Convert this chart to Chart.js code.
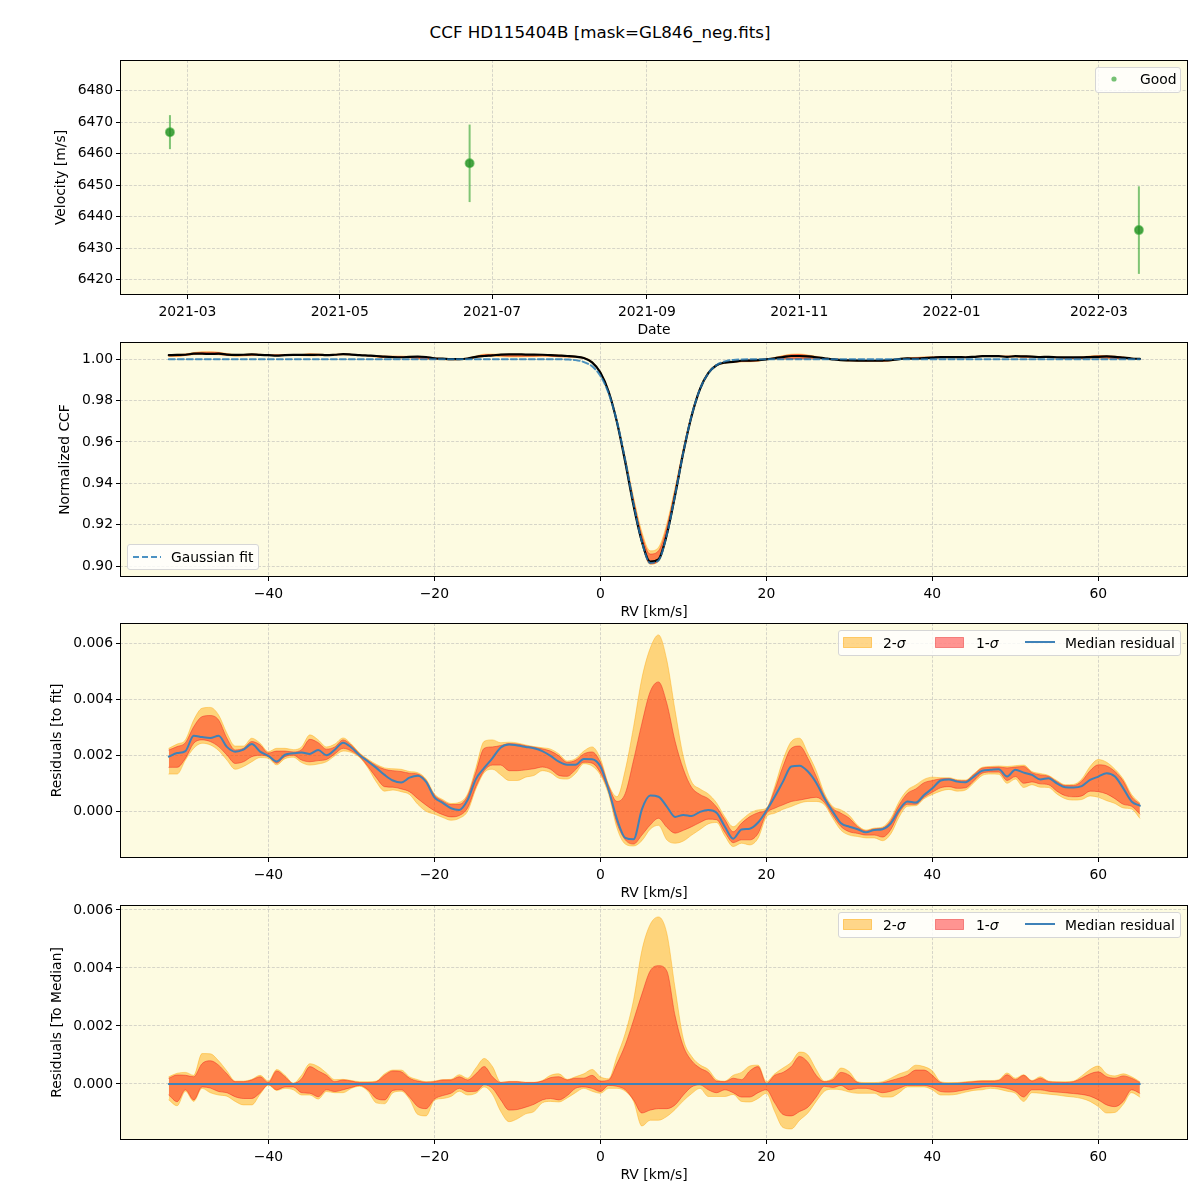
<!DOCTYPE html>
<html>
<head>
<meta charset="utf-8">
<script src="https://cdn.jsdelivr.net/npm/chart.js@4.4.0/dist/chart.umd.min.js"></script>
<style>
  html, body { margin:0; padding:0; background:#fff; }
  body { width:1200px; height:1200px; position:relative; overflow:hidden; font-family:'DejaVu Sans', sans-serif; color:#000; }
  canvas { position:absolute; left:0; display:block; }
  #title { position:absolute; left:0; top:22px; width:1200px; text-align:center; font-size:16.7px; line-height:20px; }
  .lg { position:absolute; background:rgba(255,255,255,0.8); border:1px solid #d6d6d6; border-radius:3px; box-sizing:border-box; z-index:5; }
  .lt { position:absolute; font-size:13.9px; line-height:16px; white-space:nowrap; z-index:6; }
  svg.sw { position:absolute; z-index:6; overflow:visible; }
</style>
</head>
<body>
<div id="title">CCF HD115404B [mask=GL846_neg.fits]</div>

<canvas id="c1" width="1200" height="298" style="top:42px"></canvas>
<canvas id="c2" width="1200" height="300" style="top:322px"></canvas>
<canvas id="c3" width="1200" height="299" style="top:604px"></canvas>
<canvas id="c4" width="1200" height="300" style="top:885px"></canvas>

<!-- legend panel 1 -->
<div class="lg" style="left:1095px;top:67px;width:86px;height:26px"></div>
<svg class="sw" style="left:1110px;top:75px" width="8" height="8"><circle cx="4" cy="4" r="2.6" fill="rgba(44,160,44,0.65)"/></svg>
<span class="lt" style="left:1140px;top:71px">Good</span>

<!-- legend panel 2 -->
<div class="lg" style="left:127px;top:544px;width:132px;height:26px"></div>
<svg class="sw" style="left:133px;top:553px" width="28" height="8"><line x1="0" y1="4" x2="28" y2="4" stroke="rgba(31,119,180,0.8)" stroke-width="2" stroke-dasharray="6,3"/></svg>
<span class="lt" style="left:171px;top:549px">Gaussian fit</span>

<!-- legend panel 3 -->
<div class="lg" style="left:838px;top:630px;width:343px;height:26px"></div>
<svg class="sw" style="left:843px;top:637px" width="29" height="11"><rect x="0.5" y="0.5" width="28" height="10" fill="rgba(255,165,0,0.45)" stroke="rgba(255,165,0,0.5)"/></svg>
<span class="lt" style="left:883px;top:635px">2-<i>σ</i></span>
<svg class="sw" style="left:935px;top:637px" width="29" height="11"><rect x="0.5" y="0.5" width="28" height="10" fill="rgba(255,0,0,0.42)" stroke="rgba(230,30,30,0.45)"/></svg>
<span class="lt" style="left:976px;top:635px">1-<i>σ</i></span>
<svg class="sw" style="left:1025px;top:638px" width="30" height="8"><line x1="0" y1="4" x2="30" y2="4" stroke="#3f82b8" stroke-width="2"/></svg>
<span class="lt" style="left:1065px;top:635px">Median residual</span>

<!-- legend panel 4 -->
<div class="lg" style="left:838px;top:912px;width:343px;height:26px"></div>
<svg class="sw" style="left:843px;top:919px" width="29" height="11"><rect x="0.5" y="0.5" width="28" height="10" fill="rgba(255,165,0,0.45)" stroke="rgba(255,165,0,0.5)"/></svg>
<span class="lt" style="left:883px;top:917px">2-<i>σ</i></span>
<svg class="sw" style="left:935px;top:919px" width="29" height="11"><rect x="0.5" y="0.5" width="28" height="10" fill="rgba(255,0,0,0.42)" stroke="rgba(230,30,30,0.45)"/></svg>
<span class="lt" style="left:976px;top:917px">1-<i>σ</i></span>
<svg class="sw" style="left:1025px;top:920px" width="30" height="8"><line x1="0" y1="4" x2="30" y2="4" stroke="#3f82b8" stroke-width="2"/></svg>
<span class="lt" style="left:1065px;top:917px">Median residual</span>

<script>
// ---------------- DATA ----------------
// Panel 1: radial velocity observations
const obsDates = ['2021-02-22', '2021-06-22', '2022-03-17'];
const obsVelocity = [6466.9, 6457.0, 6435.8];
const obsError = [5.4, 12.3, 13.9];
const dateTickLabels = ['2021-03', '2021-05', '2021-07', '2021-09', '2021-11', '2022-01', '2022-03'];

// RV grid [km/s]
const rv = [
 -52,-51,-50,-49,-48,-47,-46,-45,-44,-43,
 -42,-41,-40,-39,-38,-37,-36,-35,-34,-33,
 -32,-31,-30,-29,-28,-27,-26,-25,-24,-23,
 -22,-21,-20,-19,-18,-17,-16,-15,-14,-13,
 -12,-11,-10,-9,-8,-7,-6,-5,-4,-3,
 -2,-1,0,1,2,3,4,5,6,7,
 8,9,10,11,12,13,14,15,16,17,
 18,19,20,21,22,23,24,25,26,27,
 28,29,30,31,32,33,34,35,36,37,
 38,39,40,41,42,43,44,45,46,47,
 48,49,50,51,52,53,54,55,56,57,
 58,59,60,61,62,63,64,65
];
const rvTicks = [-40, -20, 0, 20, 40, 60];
const rvTickLabels = ['\u221240', '\u221220', '0', '20', '40', '60'];

// Panel 2: normalized CCF
const gaussFit = [
 1,1,1,1,1,1,1,1,1,1,
 1,1,1,1,1,1,1,1,1,1,
 1,1,1,1,1,1,1,1,1,1,
 1,1,1,1,1,1,1,1,1,1,
 1,1,1,1,1,1,1,1,0.9999,0.9996,
 0.9987,0.9966,0.9920,0.9835,0.9698,0.9511,0.9302,0.9118,0.9015,0.9027,
 0.9150,0.9344,0.9552,0.9729,0.9856,0.9932,0.9972,0.9990,0.9997,0.9999,
 1,1,1,1,1,1,1,1,1,1,
 1,1,1,1,1,1,1,1,1,1,
 1,1,1,1,1,1,1,1,1,1,
 1,1,1,1,1,1,1,1,1,1,
 1,1,1,1,1,1,1,1
];
const ccfMedian = [
 1.0020,1.0021,1.0022,1.0027,1.0027,1.0026,1.0027,1.0023,1.0021,1.0022,
 1.0024,1.0021,1.0020,1.0018,1.0020,1.0021,1.0021,1.0021,1.0022,1.0020,
 1.0022,1.0025,1.0023,1.0020,1.0018,1.0016,1.0013,1.0011,1.0010,1.0012,
 1.0013,1.0011,1.0005,1.0003,1.0001,1.0001,1.0004,1.0012,1.0016,1.0019,
 1.0023,1.0024,1.0024,1.0023,1.0023,1.0022,1.0020,1.0018,1.0016,1.0013,
 1.0006,0.9985,0.9936,0.9843,0.9695,0.9502,0.9292,0.9119,0.9021,0.9032,
 0.9152,0.9342,0.9551,0.9727,0.9856,0.9933,0.9971,0.9984,0.9987,0.9993,
 0.9994,0.9996,1.0000,1.0005,1.0011,1.0016,1.0016,1.0014,1.0010,1.0005,
 1.0000,0.9996,0.9995,0.9994,0.9993,0.9993,0.9994,0.9996,1.0001,1.0004,
 1.0003,1.0006,1.0008,1.0011,1.0011,1.0011,1.0010,1.0012,1.0015,1.0015,
 1.0015,1.0012,1.0015,1.0014,1.0013,1.0011,1.0012,1.0010,1.0009,1.0009,
 1.0009,1.0011,1.0012,1.0014,1.0012,1.0008,1.0004,1.0002
];

// Panel 3: residuals to fit (units of 1e-3)
const resMedian = [
 1.95,2.08,2.15,2.70,2.65,2.62,2.70,2.30,2.13,2.20,
 2.40,2.13,1.98,1.78,2.02,2.07,2.10,2.05,2.19,2.00,
 2.20,2.45,2.28,2.00,1.78,1.55,1.30,1.10,1.03,1.20,
 1.27,1.05,0.50,0.30,0.11,0.05,0.40,1.15,1.55,1.90,
 2.28,2.39,2.35,2.30,2.25,2.15,1.98,1.77,1.66,1.66,
 1.87,1.86,1.60,0.76,-0.28,-0.95,-1.00,0.07,0.56,0.52,
 0.17,-0.20,-0.13,-0.17,-0.02,0.05,-0.05,-0.55,-0.98,-0.65,
 -0.62,-0.40,0.02,0.52,1.06,1.60,1.63,1.42,1.02,0.46,
 -0.01,-0.43,-0.55,-0.64,-0.75,-0.67,-0.64,-0.43,0.05,0.35,
 0.31,0.58,0.82,1.10,1.14,1.06,1.04,1.24,1.45,1.48,
 1.50,1.24,1.48,1.38,1.30,1.14,1.18,1.00,0.86,0.85,
 0.90,1.12,1.24,1.36,1.24,0.82,0.35,0.20
];
const res1SigHigh = [
 2.19,2.31,2.45,3.02,3.38,3.42,3.26,2.61,2.19,2.25,
 2.49,2.37,2.08,2.15,2.15,2.12,2.20,2.57,2.45,2.22,
 2.30,2.55,2.36,2.05,1.82,1.63,1.50,1.45,1.42,1.36,
 1.33,1.10,0.58,0.37,0.24,0.25,0.55,1.40,2.25,2.30,
 2.35,2.42,2.40,2.34,2.29,2.23,2.15,1.98,1.75,1.82,
 2.05,2.12,1.75,0.90,0.35,0.64,1.83,3.14,4.27,4.62,
 3.86,2.50,1.50,0.85,0.60,0.45,0.15,-0.30,-0.73,-0.43,
 -0.19,-0.05,0.07,0.76,1.60,2.25,2.33,1.89,1.25,0.55,
 0.10,-0.07,-0.25,-0.55,-0.70,-0.63,-0.60,-0.33,0.23,0.64,
 0.80,1.02,1.10,1.16,1.17,1.10,1.09,1.31,1.54,1.57,
 1.58,1.55,1.58,1.60,1.38,1.30,1.25,1.06,0.92,0.92,
 1.08,1.45,1.66,1.62,1.42,1.08,0.52,0.26
];
const res1SigLow = [
 1.57,1.57,1.89,2.43,2.55,2.49,2.31,2.01,1.71,1.77,
 1.95,2.00,1.95,1.72,1.95,2.00,1.83,1.77,1.81,1.85,
 2.05,2.25,2.15,1.95,1.60,1.20,0.88,0.86,0.80,0.70,
 0.45,0.22,0.02,-0.12,-0.20,-0.15,0.12,0.88,1.45,1.65,
 1.65,1.45,1.45,1.48,1.52,1.58,1.50,1.28,1.25,1.48,
 1.75,1.72,1.38,0.70,-0.43,-1.02,-1.17,-0.85,-0.49,-0.25,
 -0.57,-0.78,-0.68,-0.55,-0.40,-0.28,-0.30,-0.75,-1.12,-1.02,
 -1.02,-0.79,-0.08,0.11,0.23,0.35,0.40,0.46,0.50,0.31,
 -0.15,-0.55,-0.73,-0.79,-0.85,-0.85,-0.92,-0.65,-0.05,0.25,
 0.25,0.50,0.68,0.84,0.88,0.82,0.84,1.09,1.36,1.40,
 1.40,1.10,1.24,1.00,1.05,0.98,0.95,0.72,0.56,0.52,
 0.55,0.72,0.70,0.62,0.45,0.25,0.18,-0.10
];
const res2SigHigh = [
 2.25,2.40,2.55,3.26,3.68,3.71,3.44,2.79,2.33,2.33,
 2.61,2.43,2.13,2.25,2.25,2.20,2.30,2.73,2.55,2.30,
 2.40,2.62,2.40,2.08,1.86,1.68,1.55,1.52,1.50,1.42,
 1.38,1.15,0.62,0.42,0.28,0.32,0.62,1.55,2.50,2.55,
 2.45,2.47,2.44,2.37,2.31,2.27,2.22,2.05,1.80,1.88,
 2.15,2.30,1.88,0.95,0.52,1.48,3.02,4.75,5.82,6.30,
 5.40,3.60,1.95,1.05,0.80,0.62,0.30,-0.20,-0.55,-0.31,
 -0.07,0.05,0.11,0.88,1.83,2.49,2.61,2.07,1.45,0.64,
 0.17,0.05,-0.15,-0.50,-0.67,-0.60,-0.56,-0.25,0.35,0.76,
 0.94,1.14,1.22,1.20,1.20,1.13,1.12,1.34,1.57,1.60,
 1.62,1.60,1.63,1.65,1.42,1.35,1.28,1.10,0.95,0.96,
 1.15,1.60,1.85,1.75,1.50,1.15,0.60,0.30
];
const res2SigLow = [
 1.33,1.33,1.83,2.25,2.43,2.37,2.17,1.83,1.50,1.60,
 1.77,1.92,1.89,1.66,1.88,1.93,1.74,1.65,1.69,1.77,
 1.98,2.15,2.10,1.92,1.55,1.05,0.72,0.76,0.70,0.60,
 0.25,0.00,-0.10,-0.22,-0.32,-0.25,0.00,0.80,1.38,1.50,
 1.30,1.10,1.10,1.22,1.28,1.45,1.38,1.18,1.15,1.35,
 1.70,1.62,1.30,0.60,-0.60,-1.17,-1.24,-1.05,-0.64,-0.50,
 -1.02,-1.14,-1.06,-0.85,-0.65,-0.45,-0.40,-0.88,-1.26,-1.14,
 -1.20,-0.96,-0.20,-0.07,0.07,0.17,0.29,0.35,0.35,0.23,
 -0.25,-0.68,-0.85,-0.90,-0.95,-0.95,-1.05,-0.80,-0.20,0.18,
 0.20,0.45,0.60,0.72,0.78,0.72,0.76,1.02,1.28,1.33,
 1.32,1.00,1.15,0.85,0.95,0.86,0.85,0.62,0.45,0.40,
 0.42,0.55,0.50,0.38,0.28,0.12,0.08,-0.25
];

// Panel 4: residuals to median (units of 1e-3)
const dev1SigHigh = [
 0.20,0.31,0.30,0.25,0.70,0.80,0.65,0.35,0.08,0.08,
 0.14,0.25,0.05,0.45,0.25,0.02,0.18,0.60,0.45,0.30,
 0.08,0.14,0.10,0.05,0.05,0.08,0.30,0.45,0.42,0.20,
 0.10,0.06,0.08,0.14,0.14,0.25,0.14,0.35,0.60,0.25,
 0.05,0.08,0.08,0.05,0.05,0.10,0.22,0.25,0.14,0.20,
 0.20,0.30,0.10,0.14,0.70,1.35,2.20,3.10,3.90,4.08,
 3.90,2.35,1.30,0.80,0.55,0.40,0.10,0.08,0.20,0.15,
 0.45,0.60,0.02,0.30,0.40,0.60,0.95,0.75,0.30,0.08,
 0.15,0.40,0.30,0.05,0.02,0.02,0.04,0.12,0.20,0.30,
 0.48,0.48,0.30,0.05,0.02,0.03,0.05,0.08,0.10,0.10,
 0.12,0.32,0.15,0.30,0.10,0.20,0.08,0.06,0.05,0.08,
 0.20,0.35,0.42,0.25,0.20,0.28,0.20,0.05
];
const dev1SigLow = [
 -0.38,-0.61,-0.20,-0.55,-0.10,-0.14,-0.26,-0.30,-0.44,-0.50,
 -0.50,-0.30,-0.02,-0.20,-0.10,-0.10,-0.30,-0.32,-0.44,-0.20,
 -0.26,-0.20,-0.12,-0.05,-0.20,-0.50,-0.55,-0.22,-0.20,-0.45,
 -0.78,-0.85,-0.52,-0.40,-0.32,-0.15,-0.26,-0.25,-0.03,-0.15,
 -0.55,-0.90,-0.88,-0.80,-0.70,-0.55,-0.50,-0.55,-0.40,-0.15,
 -0.10,-0.15,-0.26,-0.05,-0.08,-0.20,-0.55,-1.00,-0.90,-0.85,
 -0.85,-0.72,-0.38,-0.10,-0.03,-0.20,-0.30,-0.20,-0.30,-0.45,
 -0.45,-0.30,-0.20,-0.65,-1.05,-1.10,-0.95,-0.80,-0.45,-0.08,
 -0.12,-0.05,-0.20,-0.15,-0.15,-0.22,-0.30,-0.25,-0.15,-0.05,
 -0.05,-0.05,-0.12,-0.26,-0.28,-0.25,-0.20,-0.15,-0.10,-0.08,
 -0.10,-0.15,-0.25,-0.45,-0.20,-0.20,-0.25,-0.28,-0.30,-0.33,
 -0.36,-0.42,-0.55,-0.72,-0.78,-0.60,-0.20,-0.32
];
const dev2SigHigh = [
 0.25,0.37,0.40,0.30,1.05,1.04,0.80,0.45,0.10,0.10,
 0.16,0.30,0.10,0.50,0.30,0.03,0.30,0.70,0.60,0.38,
 0.15,0.16,0.12,0.08,0.08,0.10,0.35,0.48,0.48,0.25,
 0.15,0.08,0.10,0.15,0.16,0.32,0.20,0.55,0.88,0.60,
 0.06,0.09,0.09,0.06,0.06,0.12,0.30,0.35,0.16,0.25,
 0.35,0.50,0.25,0.18,0.95,1.75,2.90,4.60,5.50,5.76,
 5.20,3.30,1.55,0.95,0.66,0.50,0.15,0.10,0.30,0.40,
 0.62,0.65,0.08,0.35,0.55,0.75,1.10,1.00,0.50,0.10,
 0.20,0.55,0.42,0.08,0.05,0.05,0.08,0.20,0.35,0.45,
 0.65,0.60,0.45,0.08,0.05,0.05,0.08,0.10,0.12,0.12,
 0.15,0.38,0.20,0.32,0.12,0.25,0.10,0.08,0.08,0.10,
 0.28,0.50,0.62,0.35,0.28,0.35,0.25,0.08
];
const dev2SigLow = [
 -0.55,-0.75,-0.25,-0.60,-0.15,-0.30,-0.38,-0.42,-0.60,-0.72,
 -0.72,-0.35,-0.04,-0.22,-0.15,-0.20,-0.38,-0.38,-0.52,-0.26,
 -0.30,-0.30,-0.15,-0.08,-0.25,-0.65,-0.68,-0.30,-0.25,-0.52,
 -1.05,-1.10,-0.56,-0.50,-0.43,-0.25,-0.38,-0.32,-0.10,-0.35,
 -0.95,-1.30,-1.20,-1.03,-0.95,-0.65,-0.60,-0.62,-0.48,-0.30,
 -0.15,-0.25,-0.32,-0.15,-0.15,-0.25,-0.60,-1.45,-1.25,-1.25,
 -1.12,-0.88,-0.58,-0.33,-0.15,-0.43,-0.43,-0.43,-0.36,-0.60,
 -0.62,-0.50,-0.32,-0.95,-1.50,-1.55,-1.25,-1.00,-0.60,-0.25,
 -0.18,-0.20,-0.28,-0.32,-0.32,-0.32,-0.45,-0.45,-0.30,-0.10,
 -0.10,-0.10,-0.20,-0.38,-0.38,-0.35,-0.28,-0.22,-0.20,-0.15,
 -0.18,-0.25,-0.32,-0.60,-0.30,-0.32,-0.35,-0.38,-0.42,-0.45,
 -0.50,-0.60,-0.78,-1.00,-0.98,-0.70,-0.30,-0.45
];

// ---------------- STYLE / HELPERS ----------------
Chart.defaults.font.family = "'DejaVu Sans', sans-serif";
Chart.defaults.font.size = 13.9;
Chart.defaults.color = '#000';

const BG = '#fdfbe1';
const GRID = 'rgba(175,175,175,0.5)';
const C_2SIG = 'rgba(255,165,0,0.45)';
const C_2SIG_EDGE = 'rgba(255,165,0,0.5)';
const C_1SIG = 'rgba(255,0,0,0.40)';
const C_1SIG_EDGE = 'rgba(235,30,30,0.45)';
const C_MED = '#3f82b8';

const framePlugin = {
  id: 'frame',
  beforeDraw(chart) {
    const { ctx, chartArea: a } = chart;
    ctx.save();
    ctx.fillStyle = BG;
    ctx.fillRect(a.left, a.top, a.right - a.left, a.bottom - a.top);
    ctx.restore();
  },
  afterDraw(chart) {
    const { ctx, chartArea: a } = chart;
    ctx.save();
    ctx.strokeStyle = '#000';
    ctx.lineWidth = 1;
    ctx.strokeRect(Math.round(a.left) + 0.5, Math.round(a.top) + 0.5,
                   Math.round(a.right - a.left) - 1, Math.round(a.bottom - a.top) - 1);
    ctx.restore();
  }
};

function xAxis(min, max, tickVals, tickLabels, title) {
  return {
    type: 'linear', min, max,
    afterBuildTicks: s => { s.ticks = tickVals.map(v => ({ value: v })); },
    afterFit: s => { s.height = 45; },
    ticks: { autoSkip: false, maxRotation: 0, minRotation: 0, padding: 5,
             callback: (v, i) => tickLabels[i] },
    grid: { color: GRID, lineWidth: 1, drawTicks: true, tickLength: 4,
            tickColor: '#000', tickWidth: 1, tickBorderDash: [] },
    border: { display: false, dash: [3, 1.6] },
    title: { display: true, text: title, padding: { top: 0, bottom: 1.2 } }
  };
}
function yAxis(min, max, tickVals, tickLabels, title, centerX) {
  return {
    type: 'linear', min, max,
    afterBuildTicks: s => { s.ticks = tickVals.map(v => ({ value: v })); },
    afterFit: s => { s.width = 120; },
    ticks: { autoSkip: false, padding: 3, callback: (v, i) => tickLabels[i] },
    grid: { color: GRID, lineWidth: 1, drawTicks: true, tickLength: 4,
            tickColor: '#000', tickWidth: 1, tickBorderDash: [] },
    border: { display: false, dash: [3, 1.6] },
    title: { display: true, text: title, padding: { top: centerX - 8.34, bottom: 0 } }
  };
}
function makeChart(id, datasets, xa, ya, padTop, extra) {
  return new Chart(document.getElementById(id), {
    type: 'line',
    data: { datasets },
    options: {
      responsive: false, animation: false, devicePixelRatio: 1,
      layout: { padding: { top: padTop, right: 12, left: 0, bottom: 0 } },
      scales: { x: xa, y: ya },
      plugins: { legend: { display: false }, tooltip: { enabled: false } },
      elements: { line: { borderJoinStyle: 'round', borderCapStyle: 'round' } }
    },
    plugins: [framePlugin].concat(extra || [])
  });
}
const series = (arr, k) => rv.map((x, i) => ({ x, y: arr[i] * k }));
function line(data, color, width, extra) {
  return Object.assign({ data, borderColor: color, borderWidth: width, pointRadius: 0,
    fill: false, cubicInterpolationMode: 'monotone' }, extra || {});
}
function bandSets(hi1, lo1, hi2, lo2) {
  return [
    line(hi1, C_1SIG_EDGE, 1, { fill: '+1', backgroundColor: C_1SIG }),
    line(lo1, C_1SIG_EDGE, 1),
    line(hi2, C_2SIG_EDGE, 0.8, { fill: '+1', backgroundColor: C_2SIG }),
    line(lo2, C_2SIG_EDGE, 0.8)
  ];
}

// ---------------- PANEL 1 ----------------
const dateTickVals = dateTickLabels.map(s => Date.parse(s + '-01'));
const errPlugin = {
  id: 'errbars',
  beforeDatasetsDraw(chart) {
    const { ctx, scales: { x, y } } = chart;
    ctx.save();
    ctx.strokeStyle = 'rgba(44,160,44,0.6)';
    ctx.lineWidth = 2;
    obsDates.forEach((d, i) => {
      const px = x.getPixelForValue(Date.parse(d));
      ctx.beginPath();
      ctx.moveTo(px, y.getPixelForValue(obsVelocity[i] - obsError[i]));
      ctx.lineTo(px, y.getPixelForValue(obsVelocity[i] + obsError[i]));
      ctx.stroke();
    });
    ctx.restore();
  }
};
makeChart('c1', [{
    type: 'scatter',
    data: obsDates.map((d, i) => ({ x: Date.parse(d), y: obsVelocity[i] })),
    pointRadius: 4, pointBackgroundColor: 'rgba(30,140,30,0.8)',
    pointBorderColor: 'rgba(44,160,44,0.6)', pointBorderWidth: 2, showLine: false
  }],
  xAxis(Date.parse('2021-02-02T00:00:00Z'), Date.parse('2022-04-05T16:00:00Z'),
        dateTickVals, dateTickLabels, 'Date'),
  yAxis(6415.2, 6489.8, [6420, 6430, 6440, 6450, 6460, 6470, 6480],
        ['6420', '6430', '6440', '6450', '6460', '6470', '6480'], 'Velocity [m/s]', 61),
  18, [errPlugin]);

// ---------------- PANEL 2 ----------------
// CCF envelopes = Gaussian fit + residual envelopes
const ccfBand = arr => rv.map((x, i) => ({ x, y: gaussFit[i] + arr[i] * 1e-3 }));
makeChart('c2', [
    line(series(gaussFit, 1), 'rgba(31,119,180,0.8)', 2, { borderDash: [6, 3] }),
    line(series(ccfMedian, 1), '#000', 2.2),
    line(ccfBand(res1SigHigh), C_1SIG_EDGE, 1, { fill: '+1', backgroundColor: C_1SIG }),
    line(ccfBand(res1SigLow), C_1SIG_EDGE, 1),
    line(ccfBand(res2SigHigh), C_2SIG_EDGE, 0.8, { fill: '+1', backgroundColor: C_2SIG }),
    line(ccfBand(res2SigLow), C_2SIG_EDGE, 0.8)
  ],
  xAxis(-57.88, 70.8, rvTicks, rvTickLabels, 'RV [km/s]'),
  yAxis(0.89468, 1.00837, [0.90, 0.92, 0.94, 0.96, 0.98, 1.00],
        ['0.90', '0.92', '0.94', '0.96', '0.98', '1.00'], 'Normalized CCF', 65),
  20);

// ---------------- PANEL 3 ----------------
makeChart('c3', [line(series(resMedian, 1e-3), C_MED, 2)].concat(
    bandSets(series(res1SigHigh, 1e-3), series(res1SigLow, 1e-3),
             series(res2SigHigh, 1e-3), series(res2SigLow, 1e-3))),
  xAxis(-57.88, 70.8, rvTicks, rvTickLabels, 'RV [km/s]'),
  yAxis(-0.001668, 0.006725, [0, 0.002, 0.004, 0.006],
        ['0.000', '0.002', '0.004', '0.006'], 'Residuals [to fit]', 57),
  19);

// ---------------- PANEL 4 ----------------
const devMedian = rv.map(() => 0);
makeChart('c4', [line(series(devMedian, 1e-3), C_MED, 2)].concat(
    bandSets(series(dev1SigHigh, 1e-3), series(dev1SigLow, 1e-3),
             series(dev2SigHigh, 1e-3), series(dev2SigLow, 1e-3))),
  xAxis(-57.88, 70.8, rvTicks, rvTickLabels, 'RV [km/s]'),
  yAxis(-0.001931, 0.006172, [0, 0.002, 0.004, 0.006],
        ['0.000', '0.002', '0.004', '0.006'], 'Residuals [To Median]', 57),
  20);
</script>
</body>
</html>
